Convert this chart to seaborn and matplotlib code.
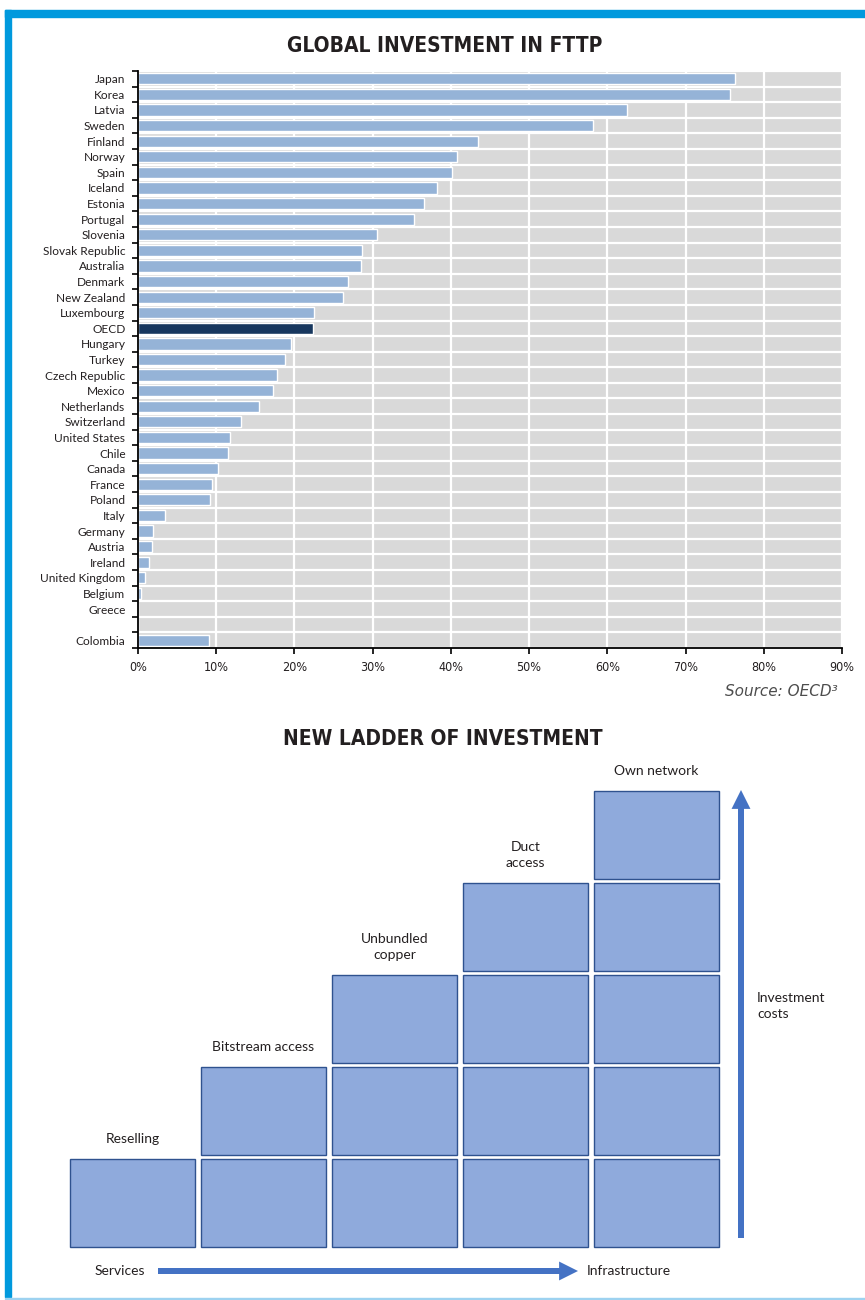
import matplotlib
matplotlib.use("Agg")
import matplotlib.pyplot as plt
from matplotlib.patches import Rectangle
import seaborn as sns
import pandas as pd

# ---------------- data ----------------
countries = ["Japan", "Korea", "Latvia", "Sweden", "Finland", "Norway", "Spain", "Iceland",
             "Estonia", "Portugal", "Slovenia", "Slovak Republic", "Australia", "Denmark",
             "New Zealand", "Luxembourg", "OECD", "Hungary", "Turkey", "Czech Republic",
             "Mexico", "Netherlands", "Switzerland", "United States", "Chile", "Canada",
             "France", "Poland", "Italy", "Germany", "Austria", "Ireland", "United Kingdom",
             "Belgium", "Greece", "Colombia"]
fttp_share = [76.3, 75.7, 62.5, 58.2, 43.5, 40.8, 40.1, 38.2,
              36.6, 35.3, 30.6, 28.6, 28.5, 26.9,
              26.2, 22.5, 22.4, 19.6, 18.8, 17.8,
              17.3, 15.5, 13.2, 11.8, 11.5, 10.2,
              9.5, 9.2, 3.5, 1.9, 1.8, 1.4, 0.9,
              0.4, 0.0, 9.1]
spacer = " "
row_order = countries[:-1] + [spacer] + countries[-1:]
x_ticks = [0, 10, 20, 30, 40, 50, 60, 70, 80, 90]
x_tick_labels = ["0%", "10%", "20%", "30%", "40%", "50%", "60%", "70%", "80%", "90%"]

stages = ["Reselling", "Bitstream access", "Unbundled\ncopper", "Duct\naccess", "Own network"]
stage_blocks = [1, 2, 3, 4, 5]

BAR = "#95B3D7"
OECD_COL = "#17375E"
FRAME = "#0099DD"
BLOCK = "#8FAADC"
BLOCK_EDGE = "#2F528F"
ARROW = "#4472C4"
TXT = "#231F20"

sns.set_theme(style="white")
LABEL_FONT = ["Lato", "DejaVu Sans"]
plt.rcParams["font.family"] = LABEL_FONT

W, H = 865, 1300
fig = plt.figure(figsize=(W / 100, H / 100), dpi=100)

def fx(px):
    return px / W

def fy(py):
    return 1 - py / H

# ---------------- frame ----------------
fig.patches.append(Rectangle((fx(5), fy(17)), 1 - fx(5), 7 / H, transform=fig.transFigure,
                             color=FRAME, zorder=0))
fig.patches.append(Rectangle((fx(5), fy(1297)), 6 / W, (1297 - 10) / H, transform=fig.transFigure,
                             color=FRAME, zorder=0))
fig.patches.append(Rectangle((fx(5), fy(1299)), 1 - fx(5), 1.5 / H, transform=fig.transFigure,
                             color="#9DD2F0", zorder=0))

# ---------------- bar chart ----------------
df = pd.DataFrame({"country": countries + [spacer], "share": fttp_share + [0.0]})
palette = {c: (OECD_COL if c == "OECD" else BAR) for c in df["country"]}

ax = fig.add_axes([fx(138), fy(648), fx(842) - fx(138), (648 - 71) / H])
ax.set_facecolor("#D9D9D9")
sns.barplot(data=df, y="country", x="share", hue="country", order=row_order,
            palette=palette, legend=False, width=0.72, saturation=1, ax=ax, zorder=3)

n = len(row_order)
ax.set_xlim(0, 90)
ax.set_ylim(n - 0.5, -0.5)
ax.set_xticks(x_ticks)
ax.set_xticklabels(x_tick_labels, family=["DejaVu Sans"], fontstretch="condensed",
                   fontsize=9, color=TXT)
ax.set_yticks(range(n))
ax.set_yticklabels(row_order, fontsize=8.6, color=TXT)
ax.set_yticks([i - 0.5 for i in range(n + 1)], minor=True)
ax.tick_params(axis="y", which="major", length=0, pad=9)
ax.tick_params(axis="y", which="minor", length=4, width=1.2, color="black", direction="out", left=True)
ax.tick_params(axis="x", which="major", length=4, width=1.2, color="black", direction="out",
               bottom=True, pad=5)
ax.set_xlabel("")
ax.set_ylabel("")
ax.grid(False)
ax.grid(which="minor", axis="y", color="white", lw=1.6, zorder=1)
ax.grid(which="major", axis="x", color="white", lw=1.6, zorder=1)
ax.set_axisbelow(True)
for s in ["top", "right"]:
    ax.spines[s].set_visible(False)
for s in ["left", "bottom"]:
    ax.spines[s].set_visible(True)
    ax.spines[s].set_color("black")
    ax.spines[s].set_linewidth(1.3)
    ax.spines[s].set_zorder(5)

fig.text(fx(445), fy(46), "GLOBAL INVESTMENT IN FTTP", family=["DejaVu Sans"],
         fontstretch="condensed", fontweight="bold", fontsize=15, color=TXT,
         ha="center", va="center")
fig.text(fx(838), fy(691), "Source: OECD\u00b3", family=["DejaVu Sans"], style="italic",
         fontsize=11, color="#4D4D4D", ha="right", va="center")
fig.text(fx(443), fy(739), "NEW LADDER OF INVESTMENT", family=["DejaVu Sans"],
         fontstretch="condensed", fontweight="bold", fontsize=15, color=TXT,
         ha="center", va="center")

# ---------------- ladder diagram ----------------
PX_X, PX_Y = 131.0, 92.0     # pixels per column / per block row
X0, Y0 = 67.0, 1249.0        # pixel position of data origin
left_px, right_px, top_px, bot_px = 40, 865, 755, 1292
ax2 = fig.add_axes([fx(left_px), fy(bot_px), (right_px - left_px) / W, (bot_px - top_px) / H])
ax2.set_xlim((left_px - X0) / PX_X, (right_px - X0) / PX_X)
ax2.set_ylim((Y0 - bot_px) / PX_Y, (Y0 - top_px) / PX_Y)
ax2.axis("off")

gx, gy = 3 / PX_X, 2 / PX_Y
for i, (name, nb) in enumerate(zip(stages, stage_blocks)):
    for j in range(nb):
        ax2.add_patch(Rectangle((i + gx, j + gy), 1 - 2 * gx, 1 - 2 * gy,
                                facecolor=BLOCK, edgecolor=BLOCK_EDGE, lw=1.0))
    ax2.text(i + 0.5, nb + 0.13, name, ha="center", va="bottom", fontsize=10,
             color=TXT, linespacing=1.45)

# vertical arrow (investment costs)
vx = (741 - X0) / PX_X
ax2.annotate("", xy=(vx, (Y0 - 790) / PX_Y), xytext=(vx, (Y0 - 1238) / PX_Y),
             arrowprops=dict(arrowstyle="simple,head_length=0.68,head_width=0.68,tail_width=0.216",
                             mutation_scale=20, color=ARROW, lw=0, shrinkA=0, shrinkB=0))
ax2.text((757 - X0) / PX_X, (Y0 - 1006) / PX_Y, "Investment\ncosts", ha="left", va="center",
         fontsize=10, color=TXT, linespacing=1.45)

# horizontal arrow (services -> infrastructure)
hy = (Y0 - 1271) / PX_Y
ax2.annotate("", xy=((578 - X0) / PX_X, hy), xytext=((158 - X0) / PX_X, hy),
             arrowprops=dict(arrowstyle="simple,head_length=0.68,head_width=0.68,tail_width=0.216",
                             mutation_scale=20, color=ARROW, lw=0, shrinkA=0, shrinkB=0))
ax2.text((145 - X0) / PX_X, hy, "Services", ha="right", va="center", fontsize=10, color=TXT)
ax2.text((587 - X0) / PX_X, hy, "Infrastructure", ha="left", va="center", fontsize=10, color=TXT)

fig.savefig("out.png", dpi=100)
